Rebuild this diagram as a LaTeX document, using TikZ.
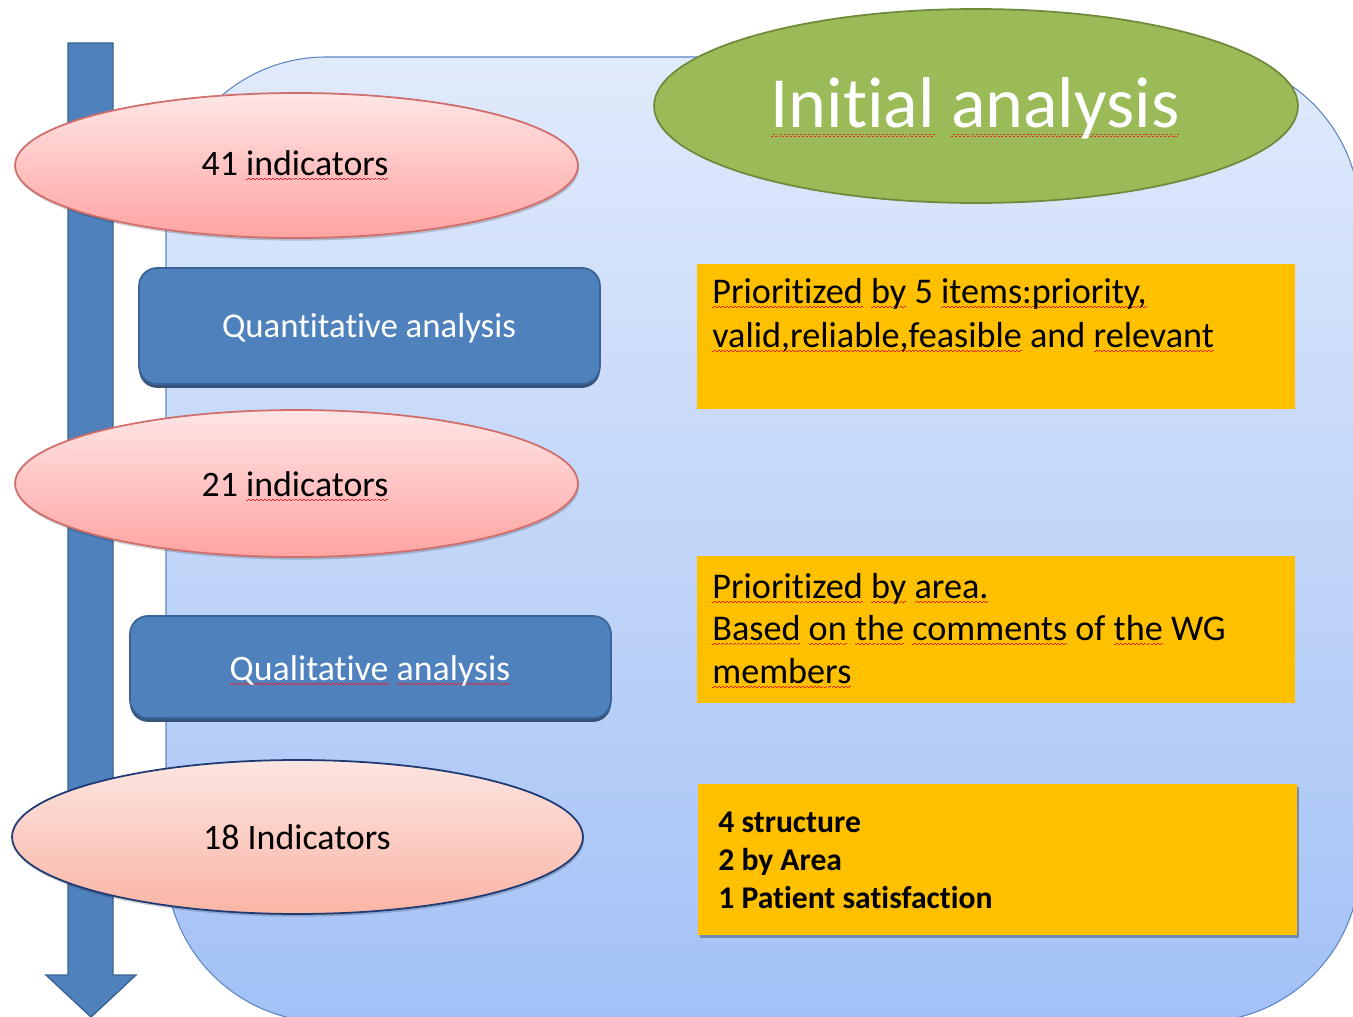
\documentclass[tikz,border=0pt]{standalone}
\usepackage{fontspec}
\setmainfont[Ligatures={NoCommon,NoContextual},Contextuals=NoAlternate]{Carlito}
\usetikzlibrary{shapes.geometric,shadows}
\definecolor{arrowblue}{HTML}{4F81BD}
\definecolor{arrowedge}{HTML}{3B6493}
\definecolor{paneltop}{HTML}{E0EAFB}
\definecolor{panelbot}{HTML}{A3C1F6}
\definecolor{paneledge}{HTML}{5B85C5}
\definecolor{greenfill}{HTML}{9BBB59}
\definecolor{greenedge}{HTML}{6F8A3A}
\definecolor{pinktop}{HTML}{FFE5E5}
\definecolor{pinkbot}{HTML}{FFA4A2}
\definecolor{pinkedge}{HTML}{CF6E6B}
\definecolor{salmtop}{HTML}{FCE5E1}
\definecolor{salmbot}{HTML}{FAB5A5}
\definecolor{navyedge}{HTML}{1F3A73}
\definecolor{boxblue}{HTML}{4F81BD}
\definecolor{boxedge}{HTML}{3A6397}
\definecolor{boxshadow}{HTML}{2E4B72}
\definecolor{orange}{HTML}{FFC000}
\definecolor{sqred}{HTML}{E8242A}
\newsavebox\sqtmp
\newcommand\sq[2][3pt]{\sbox\sqtmp{#2}\rlap{\color{sqred}\raisebox{-#1}[0pt][0pt]{\hbox to \wd\sqtmp{\xleaders\hbox{\rule{1.1pt}{0.6pt}\raisebox{0.8pt}{\rule{1.1pt}{0.6pt}}}\hfil}}}\usebox\sqtmp}
\begin{document}
\begin{tikzpicture}[x=0.02cm,y=-0.02cm,
  panel/.style={draw=paneledge, line width=0.6pt, top color=paneltop, bottom color=panelbot, rounded corners=3.2cm},
  flowarrow/.style={fill=arrowblue, draw=arrowedge, line width=0.8pt},
  pinkell/.style={ellipse, inner sep=0pt, draw=pinkedge, line width=1pt, top color=pinktop, bottom color=pinkbot,
     drop shadow={shadow xshift=0.6pt, shadow yshift=-1.5pt, fill=black, opacity=0.18}},
  salmell/.style={ellipse, inner sep=0pt, draw=navyedge, line width=1pt, top color=salmtop, bottom color=salmbot,
     drop shadow={shadow xshift=0.6pt, shadow yshift=-1.5pt, fill=black, opacity=0.18}},
  greenell/.style={ellipse, inner sep=0pt, draw=greenedge, line width=1pt, fill=greenfill},
  bluebox/.style={rectangle, inner sep=0pt, rounded corners=0.36cm, draw=boxedge, line width=1pt, fill=boxblue,
     drop shadow={shadow xshift=0pt, shadow yshift=-2.2pt, fill=boxshadow, opacity=0.95}},
  orangebox/.style={rectangle, inner sep=0pt, fill=orange},
  lbl/.style={inner sep=0pt, anchor=base, font=\fontsize{20.4}{24}\selectfont},
  otext/.style={inner sep=0pt, anchor=base west, font=\fontsize{20.6}{24}\selectfont},
  btext/.style={inner sep=0pt, anchor=base west, font=\fontsize{18}{22}\selectfont\bfseries}
]
\useasboundingbox (0,0) rectangle (1353,1017);
\fill[white] (0,0) rectangle (1353,1017);
% background panel
\begin{scope}
\clip (0,0) rectangle (1353,1017);
\path[panel] (166,57) rectangle (1360,1022);
\end{scope}
% vertical flow arrow
\draw[flowarrow] (68,43) -- (113,43) -- (113,975) -- (136,975) -- (91,1017) -- (46,975) -- (68,975) -- cycle;

% green title ellipse
\node[greenell, minimum width=12.88cm, minimum height=3.88cm] (title) at (976,106) {};
\node[lbl, text=white, font=\fontsize{41}{48}\selectfont] (titletext) at (975,128) {\sq[5pt]{Init\kern0pt ial} \sq[5pt]{analysis}};

% left column
\node[pinkell, minimum width=11.26cm, minimum height=2.9cm] (e41) at (296.5,165.5) {};
\node[lbl] (t41) at (295,175) {41 \sq{indicators}};

\node[bluebox, minimum width=9.22cm, minimum height=2.32cm] (quant) at (369.5,326) {};
\node[lbl, text=white, font=\fontsize{19.8}{24}\selectfont] (tquant) at (369,337) {Quantitat\kern0pt ive analysis};

\node[pinkell, minimum width=11.26cm, minimum height=2.94cm] (e21) at (296.5,483.5) {};
\node[lbl] (t21) at (295,496) {21 \sq{indicators}};

\node[bluebox, minimum width=9.62cm, minimum height=2.04cm] (qual) at (370.5,667) {};
\node[lbl, text=white] (tqual) at (370,680) {\sq{Qualitat\kern0pt ive} \sq{analysis}};

\node[salmell, minimum width=11.42cm, minimum height=3.08cm] (e18) at (297.5,837) {};
\node[lbl] (t18) at (297,849) {18 Indicators};

% right column
\node[orangebox, minimum width=11.96cm, minimum height=2.9cm] (box1) at (996,336.5) {};
\node[otext] (b1a) at (712,303) {\sq{Priorit\kern0pt ized} \sq{by} 5 \sq{items:priority,}};
\node[otext] (b1b) at (712,347) {\sq{valid,reliable,feasible} and \sq{relevant}};

\node[orangebox, minimum width=11.96cm, minimum height=2.94cm] (box2) at (996,629.5) {};
\node[otext] (b2a) at (712,598) {\sq{Priorit\kern0pt ized} \sq{by} \sq{area.}};
\node[otext] (b2b) at (712,640) {\sq{Based} \sq{on} \sq{the} \sq{comments} of \sq{the} WG};
\node[otext] (b2c) at (712,683) {\sq{members}};

\node[orangebox, minimum width=11.98cm, minimum height=3.02cm,
  drop shadow={shadow xshift=1.2pt, shadow yshift=-1.5pt, fill=black, opacity=0.3}] (box3) at (997.5,859.5) {};
\node[btext] (b3a) at (718,832) {4 structure};
\node[btext] (b3b) at (718,870) {2 by Area};
\node[btext] (b3c) at (718,908) {1 Patient satisfact\kern0pt ion};
\end{tikzpicture}
\end{document}
